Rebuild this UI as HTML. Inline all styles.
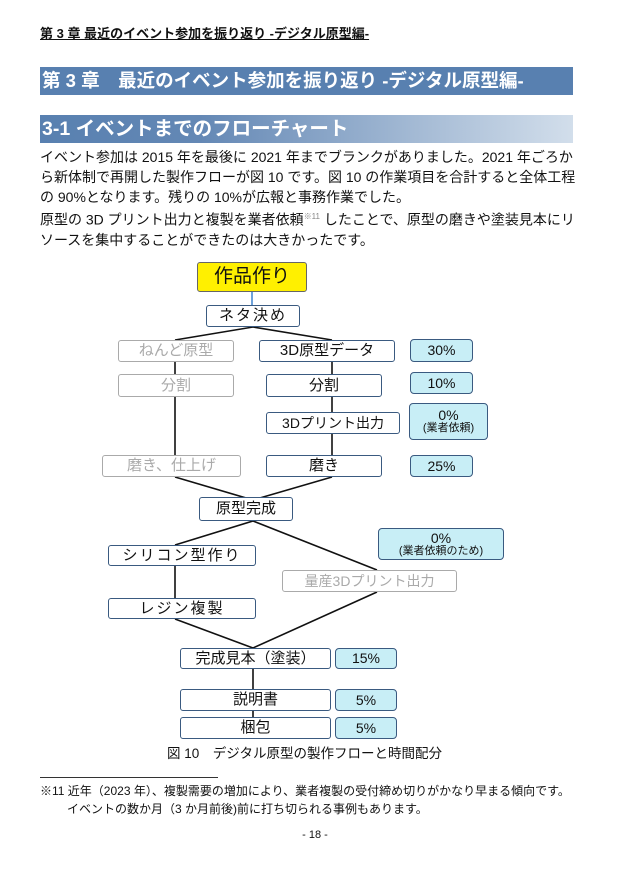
<!DOCTYPE html>
<html><head><meta charset="utf-8"><style>
*{margin:0;padding:0;box-sizing:border-box}
body{width:630px;height:876px;background:#fff;position:relative;overflow:hidden;font-family:"Liberation Sans","Noto Sans CJK JP",sans-serif;color:#111}
.a{position:absolute;white-space:nowrap}
.b{position:absolute;border:1.3px solid #3a5a80;border-radius:3px;background:#fff;display:flex;align-items:center;justify-content:center;font-size:15px;color:#111;white-space:nowrap;line-height:1.05;text-align:center}
.g{border-color:#aaa;color:#aaa}
.p{background:#c8eef6;border-color:#3a5a80;font-size:14px;border-radius:4px;flex-direction:column}
.p small{font-size:11px}
p.t{position:absolute;left:40px;width:540px;font-size:14px;line-height:20px;top:147px}
</style></head><body>
<div class="a" style="left:40px;top:23px;font-size:13px;font-weight:bold;text-decoration:underline">第 3 章 最近のイベント参加を振り返り -デジタル原型編-</div>
<div class="a" style="left:40px;top:67px;width:533px;height:28px;background:#5880b0;color:#fff;font-size:18.5px;font-weight:bold;line-height:28px;padding-left:2px">第 3 章　最近のイベント参加を振り返り -デジタル原型編-</div>
<div class="a" style="left:40px;top:115px;width:533px;height:28px;background:linear-gradient(90deg,#5880b0 0%,#6488b5 30%,#d2deeb 100%);color:#fff;font-size:19.5px;font-weight:bold;line-height:28px;padding-left:2px">3-1 イベントまでのフローチャート</div>
<p class="t">イベント参加は 2015 年を最後に 2021 年までブランクがありました。2021 年ごろから新体制で再開した製作フローが図 10 です。図 10 の作業項目を合計すると全体工程の 90%となります。残りの 10%が広報と事務作業でした。<br>原型の 3D プリント出力と複製を業者依頼<sup style="font-size:8px;color:#888">※11</sup> したことで、原型の磨きや塗装見本にリソースを集中することができたのは大きかったです。</p>
<svg class="a" style="left:0;top:0" width="630" height="876">
<g stroke="#111" stroke-width="1.6" fill="none">
<line x1="252" y1="292" x2="252" y2="305" stroke="#4a8ad0"/>
<polyline points="175,340 253,327 332,340"/>
<line x1="175" y1="362" x2="175" y2="455"/>
<line x1="332" y1="362" x2="332" y2="455"/>
<polyline points="175,477 253,500 332,477"/>
<polyline points="175,545 253,521 377,570"/>
<line x1="175" y1="566" x2="175" y2="598"/>
<polyline points="175,619 253,648 377,592"/>
<line x1="253" y1="669" x2="253" y2="717"/>
</g></svg>
<div class="b" style="left:197px;top:262px;width:110px;height:30px;background:#fff000;font-size:19px;border-color:#666">作品作り</div>
<div class="b" style="left:206px;top:305px;width:94px;height:22px;letter-spacing:2px">ネタ決め</div>
<div class="b g" style="left:118px;top:340px;width:116px;height:22px">ねんど原型</div>
<div class="b" style="left:259px;top:340px;width:136px;height:22px">3D原型データ</div>
<div class="b p" style="left:410px;top:339px;width:63px;height:23px">30%</div>
<div class="b g" style="left:118px;top:374px;width:116px;height:23px">分割</div>
<div class="b" style="left:266px;top:374px;width:116px;height:23px">分割</div>
<div class="b p" style="left:410px;top:372px;width:63px;height:22px">10%</div>
<div class="b" style="left:266px;top:412px;width:134px;height:22px;font-size:14px">3Dプリント出力</div>
<div class="b p" style="left:409px;top:403px;width:79px;height:37px">0%<small>(業者依頼)</small></div>
<div class="b g" style="left:102px;top:455px;width:139px;height:22px">磨き、仕上げ</div>
<div class="b" style="left:266px;top:455px;width:116px;height:22px">磨き</div>
<div class="b p" style="left:410px;top:455px;width:63px;height:22px">25%</div>
<div class="b" style="left:199px;top:497px;width:94px;height:24px">原型完成</div>
<div class="b" style="left:108px;top:545px;width:148px;height:21px;letter-spacing:2px">シリコン型作り</div>
<div class="b p" style="left:378px;top:528px;width:126px;height:32px">0%<small>(業者依頼のため)</small></div>
<div class="b g" style="left:282px;top:570px;width:175px;height:22px;font-size:14px">量産3Dプリント出力</div>
<div class="b" style="left:108px;top:598px;width:148px;height:21px;letter-spacing:2px">レジン複製</div>
<div class="b" style="left:180px;top:648px;width:151px;height:21px">完成見本（塗装）</div>
<div class="b p" style="left:335px;top:648px;width:62px;height:21px">15%</div>
<div class="b" style="left:180px;top:689px;width:151px;height:22px">説明書</div>
<div class="b p" style="left:335px;top:689px;width:62px;height:22px">5%</div>
<div class="b" style="left:180px;top:717px;width:151px;height:22px">梱包</div>
<div class="b p" style="left:335px;top:717px;width:62px;height:22px">5%</div>
<div class="a" style="left:167px;top:742px;font-size:13.5px">図 10　デジタル原型の製作フローと時間配分</div>
<div class="a" style="left:40px;top:777px;width:178px;border-top:1px solid #333"></div>
<div class="a" style="left:40px;top:782px;font-size:12px">※11 近年（2023 年）、複製需要の増加により、業者複製の受付締め切りがかなり早まる傾向です。</div>
<div class="a" style="left:67px;top:800px;font-size:12px">イベントの数か月（3 か月前後)前に打ち切られる事例もあります。</div>
<div class="a" style="left:0;width:630px;text-align:center;top:829px;font-size:11px">- 18 -</div>
</body></html>
